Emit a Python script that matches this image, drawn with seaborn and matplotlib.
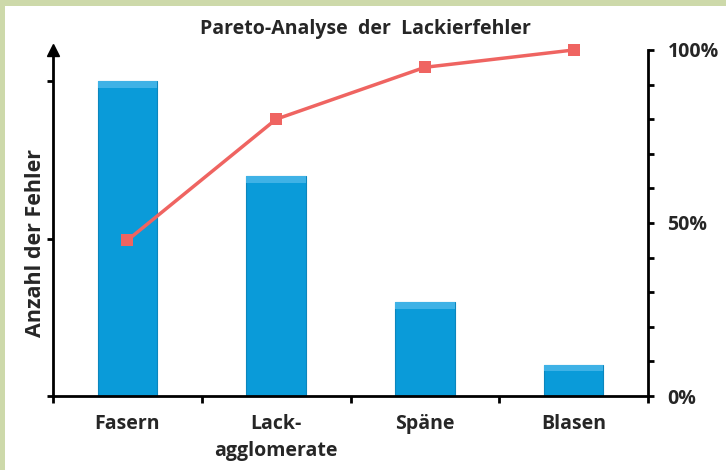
import matplotlib
matplotlib.use("Agg")
import matplotlib.pyplot as plt
import seaborn as sns
import pandas as pd
from matplotlib.patches import Rectangle

categories = ["Fasern", "Lack-\nagglomerate", "Späne", "Blasen"]
counts = [100, 70, 30, 10]
cumulative_pct = [45, 80, 95, 100]
right_ticks = [0, 50, 100]
right_labels = ["0%", "50%", "100%"]

sns.set_theme(style="white")
plt.rcParams['font.family'] = ['Open Sans', 'DejaVu Sans']
plt.rcParams['font.weight'] = 'bold'

fig = plt.figure(figsize=(7.26, 4.70), dpi=100)
fig.patch.set_facecolor("white")
# green border (top and left)
fig.patches.append(Rectangle((0, 1 - 6/470), 1, 6/470, transform=fig.transFigure,
                             facecolor="#cdd9aa", edgecolor="none", zorder=0))
fig.patches.append(Rectangle((0, 0), 5/726, 1, transform=fig.transFigure,
                             facecolor="#cdd9aa", edgecolor="none", zorder=0))

ax = fig.add_axes([53/726, (470-396)/470, (648-53)/726, (396-50)/470])
df = pd.DataFrame({"cat": categories, "count": counts})
sns.barplot(data=df, x="cat", y="count", ax=ax, color="#0a9bd9", width=0.4,
            edgecolor="#0b86bd", linewidth=0.8, saturation=1)
# lighter bevel on top of each bar
for p in list(ax.patches):
    x0, w, h = p.get_x(), p.get_width(), p.get_height()
    ax.add_patch(Rectangle((x0, h - 2.2), w, 2.2, facecolor="#3fb2e6",
                           edgecolor="none", zorder=p.get_zorder() + 0.1))
ax.set_xlim(-0.5, 3.5)
ax.set_ylim(0, 110)
for s in ["top", "right"]:
    ax.spines[s].set_visible(False)
for s in ["left", "bottom"]:
    ax.spines[s].set_color("black")
    ax.spines[s].set_linewidth(2)
ax.set_yticks([0, 50, 100])
ax.set_yticklabels([])
ax.tick_params(axis="y", direction="out", length=4, width=2, color="black", left=True)
ax.set_xticks([0, 1, 2, 3])
ax.set_xticklabels(categories, fontsize=14, fontweight="bold", linespacing=1.45)
ax.tick_params(axis="x", length=0, pad=13)
ax.set_xticks([-0.5, 0.5, 1.5, 2.5, 3.5], minor=True)
ax.tick_params(axis="x", which="minor", direction="out", length=5, width=2,
               color="black", bottom=True)
ax.set_xlabel("")
ax.set_ylabel("Anzahl der Fehler", fontsize=15.5, fontweight="bold")
ax.yaxis.set_label_coords(-0.012, 0.442)
ax.plot([-0.5], [110], marker="^", color="black", markersize=8, clip_on=False,
        zorder=5)

ax2 = ax.twinx()
dfl = pd.DataFrame({"x": [0, 1, 2, 3], "pct": cumulative_pct})
sns.lineplot(data=dfl, x="x", y="pct", ax=ax2, color="#ef6461", linewidth=2.5,
             marker="s", markersize=9, markeredgewidth=0, clip_on=False)
ax2.set_ylim(0, 100)
ax2.set_xlim(-0.5, 3.5)
ax2.set_yticks(right_ticks)
ax2.set_yticklabels(right_labels, fontsize=14, fontweight="bold")
ax2.set_yticks(list(range(0, 101, 10)), minor=True)
ax2.tick_params(axis="y", which="both", direction="out", length=4, width=2,
                color="black", right=True, pad=10)
for s in ["top", "left", "bottom"]:
    ax2.spines[s].set_visible(False)
ax2.spines["right"].set_color("black")
ax2.spines["right"].set_linewidth(2)
ax2.set_ylabel("")
ax2.set_xlabel("")

fig.text(365/726, 1 - 29/470, "Pareto-Analyse  der  Lackierfehler", ha="center",
         va="center", fontsize=14, fontweight="bold")

fig.savefig("out.png", dpi=100)
